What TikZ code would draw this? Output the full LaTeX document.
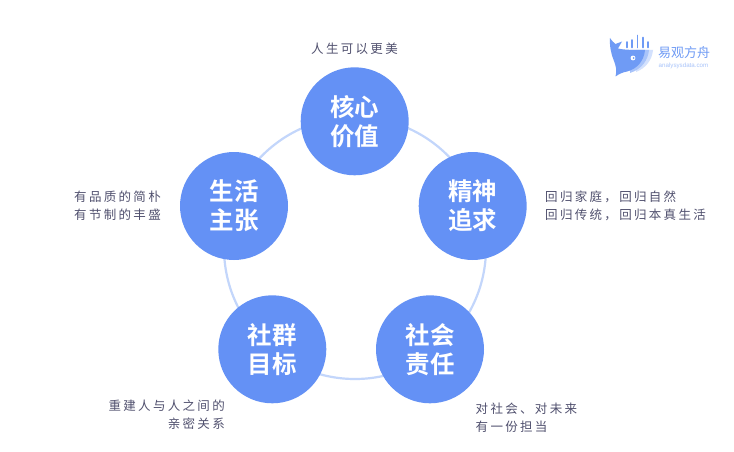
\documentclass[tikz,border=0pt]{standalone}
\usepackage{fontspec}
\setmainfont{Liberation Sans}
\newfontfamily\cjk[LetterSpace=18.5]{Noto Sans CJK SC}
\newfontfamily\cjkb[BoldFont={Noto Sans CJK SC Bold}]{Noto Sans CJK SC}
\newfontfamily\cjkl{Noto Sans CJK SC}
\newcommand\twoline[2]{\raisebox{-1.5pt}{#1}\\\raisebox{-1.5pt}{#2}}
\definecolor{nodeblue}{HTML}{6491F5}
\definecolor{ringblue}{HTML}{C3D6FB}
\definecolor{labelgray}{HTML}{50506E}
\definecolor{logoblue}{HTML}{6F9BF5}
\definecolor{logomid}{HTML}{A9C4FA}
\definecolor{logolight}{HTML}{D3E1FD}
\tikzset{
  bignode/.style={circle,fill=nodeblue,draw=none,minimum size=108pt,inner sep=0pt,text=white,align=center,
    font=\cjkb\bfseries\fontsize{24.5}{29}\selectfont},
  note/.style={text=labelgray,inner sep=0pt,font=\cjk\fontsize{12.5}{18}\selectfont},
  bar/.style={draw=logoblue,line width=1.7pt,line cap=round}
}
\begin{document}
\begin{tikzpicture}[x=1pt,y=-1pt]
\useasboundingbox (0,0) rectangle (734,452);
\fill[white] (0,0) rectangle (734,452);
\coordinate (hub) at (355,248);
\draw[ringblue,line width=2.2pt] (hub) circle (131);
\node[bignode] (core) at (354.7,121.3) {\twoline{核心}{价值}};
\node[bignode] (spirit) at (472.7,206) {\twoline{精神}{追求}};
\node[bignode] (duty) at (430,349.3) {\twoline{社会}{责任}};
\node[bignode] (group) at (272.3,349.3) {\twoline{社群}{目标}};
\node[bignode] (life) at (234,206) {\twoline{生活}{主张}};
\node[note,anchor=center] (n1) at (354.5,49) {人生可以更美};
\node[note,anchor=west,align=left] (n2) at (545,206) {回归家庭，回归自然\\回归传统，回归本真生活};
\node[note,anchor=west,align=left] (n3) at (475.5,418) {对社会、对未来\\有一份担当};
\node[note,anchor=east,align=right] (n4) at (225,415) {重建人与人之间的\\亲密关系};
\node[note,anchor=east,align=right] (n5) at (161,206) {有品质的简朴\\有节制的丰盛};
% logo
\fill[logolight] (636,50) -- (653,50) .. controls (652,60) and (646,68) .. (636,72) -- cycle;
\fill[logomid] (630,50) -- (649,50) .. controls (648,60) and (642,69) .. (630,73) -- cycle;
\fill[logoblue] (610,38) .. controls (612,41) and (614,43) .. (615.5,44) -- (622,41.5) -- (618,48.5)
  .. controls (624,50) and (635,50) .. (645,50)
  .. controls (644,61) and (637,69) .. (627,71.5) .. controls (622,72.5) and (619,74) .. (615.5,76.5)
  .. controls (617,71) and (616,66) .. (614,61) .. controls (611,54) and (609.5,46) .. (610,38) -- cycle;
\fill[white] (633,58) circle (2.4);
\fill[logoblue] (633.6,58) circle (1.1);
\draw[bar] (627,47.5) -- (627,42);
\draw[bar] (632,47.5) -- (632,40);
\draw[bar] (637.5,47.5) -- (637.5,35.5);
\draw[bar] (643,47.5) -- (643,37.5);
\draw[bar] (648,47.5) -- (648,42);
\node[inner sep=0pt,anchor=west,text=logoblue,font=\cjkl\fontsize{13}{13}\selectfont] (brand) at (658,53) {易观方舟};
\node[inner sep=0pt,anchor=west,text=logomid,font=\fontsize{6.2}{6.2}\selectfont] (site) at (658.5,66) {analysysdata.com};
\end{tikzpicture}
\end{document}
